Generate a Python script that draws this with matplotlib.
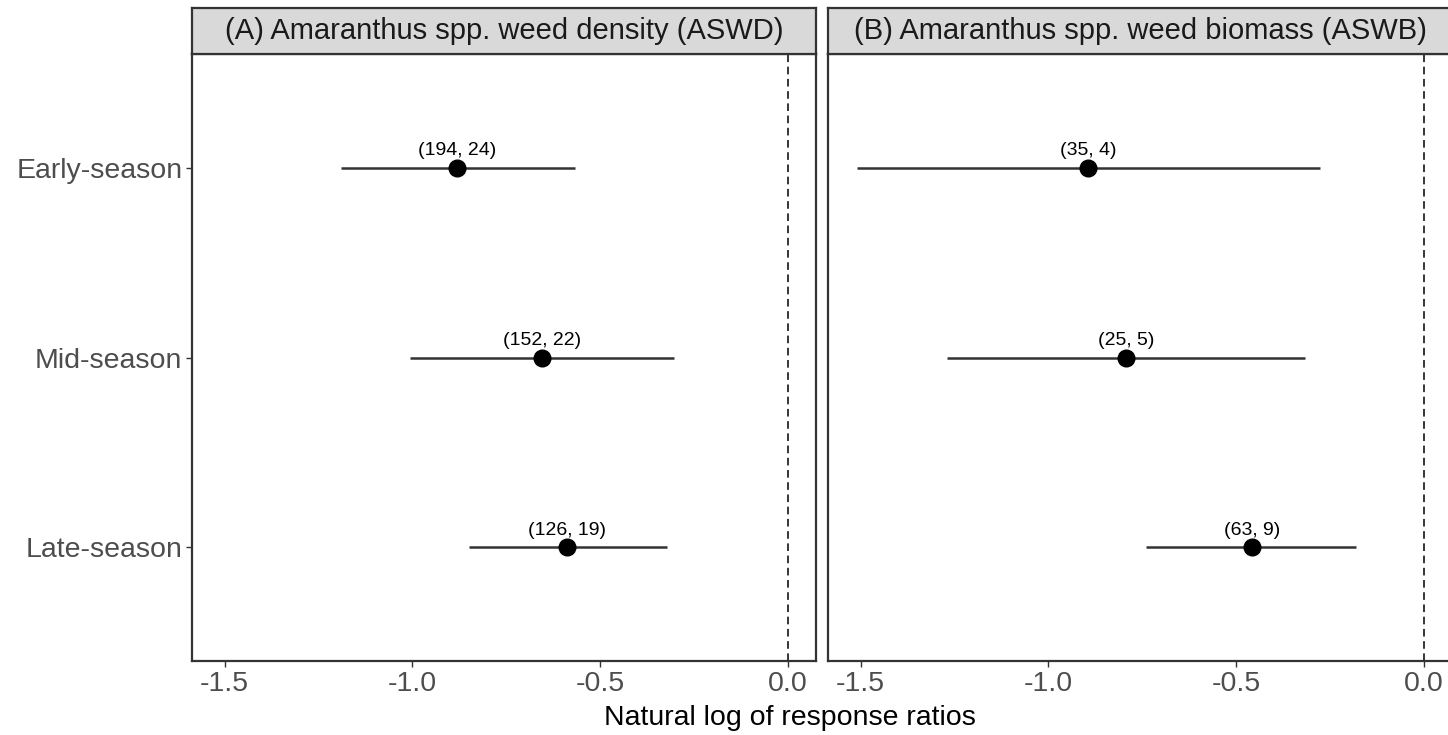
import matplotlib
matplotlib.use("Agg")
import matplotlib.pyplot as plt
import numpy as np

plt.rcParams['font.family'] = ['Liberation Sans', 'DejaVu Sans']

# data
seasons = ["Early-season", "Mid-season", "Late-season"]
panel_titles = ["(A) Amaranthus spp. weed density (ASWD)",
                "(B) Amaranthus spp. weed biomass (ASWB)"]

aswd_mean = [-0.881, -0.654, -0.587]
aswd_lo = [-1.189, -1.005, -0.849]
aswd_hi = [-0.566, -0.303, -0.322]
aswd_n = ["(194, 24)", "(152, 22)", "(126, 19)"]

aswb_mean = [-0.894, -0.793, -0.458]
aswb_lo = [-1.511, -1.270, -0.740]
aswb_hi = [-0.277, -0.316, -0.179]
aswb_n = ["(35, 4)", "(25, 5)", "(63, 9)"]

x_ticks = [-1.5, -1.0, -0.5, 0.0]
x_ticklabels = ["-1.5", "-1.0", "-0.5", "0.0"]

W, H = 1448, 735
fig = plt.figure(figsize=(W / 100, H / 100), dpi=100)

def px_box(x0, y0, x1, y1):
    # pixel box (top-left origin) -> figure fraction rect
    return [x0 / W, (H - y1) / H, (x1 - x0) / W, (y1 - y0) / H]

panels = [
    (192, aswd_mean, aswd_lo, aswd_hi, aswd_n, panel_titles[0]),
    (828, aswb_mean, aswb_lo, aswb_hi, aswb_n, panel_titles[1]),
]

edge = "#333333"
ypos = np.arange(len(seasons))[::-1] + 1  # early at top

for i, (x0, mean, lo, hi, lab, title) in enumerate(panels):
    ax = fig.add_axes(px_box(x0, 54, x0 + 624, 661))
    ax.hlines(ypos, lo, hi, color="#333333", lw=1.8, zorder=2)
    ax.plot(mean, ypos, "o", color="black", ms=12, zorder=3)
    for m, y, t in zip(mean, ypos, lab):
        ax.annotate(t, (m, y), xytext=(0, 6), textcoords="offset points",
                    ha="center", va="bottom", fontsize=14, color="black")
    ax.axvline(0, color="black", lw=1.1, ls=(0, (5, 3)), zorder=1)
    ax.set_xlim(-1.587, 0.0756)
    ax.set_ylim(0.4, 3.6)
    ax.set_xticks(x_ticks)
    ax.set_xticklabels(x_ticklabels)
    ax.set_yticks(ypos)
    ax.tick_params(axis="both", labelsize=20.5, labelcolor="#4D4D4D",
                   color="#333333", length=4, width=1, pad=3)
    if i == 0:
        ax.set_yticklabels(seasons)
    else:
        ax.set_yticklabels([])
        ax.tick_params(axis="y", length=0)
    for s in ax.spines.values():
        s.set_color(edge)
        s.set_linewidth(1.6)

    sax = fig.add_axes(px_box(x0, 8, x0 + 624, 54))
    sax.set_facecolor("#D9D9D9")
    sax.set_xticks([])
    sax.set_yticks([])
    for s in sax.spines.values():
        s.set_color(edge)
        s.set_linewidth(1.6)
    sax.text(0.5, 0.5, title, transform=sax.transAxes, ha="center",
             va="center", fontsize=21, color="#1A1A1A")

fig.text(790 / W, (H - 718) / H, "Natural log of response ratios",
         ha="center", va="center", fontsize=20.5, color="black")

fig.savefig("out.png", dpi=100)
